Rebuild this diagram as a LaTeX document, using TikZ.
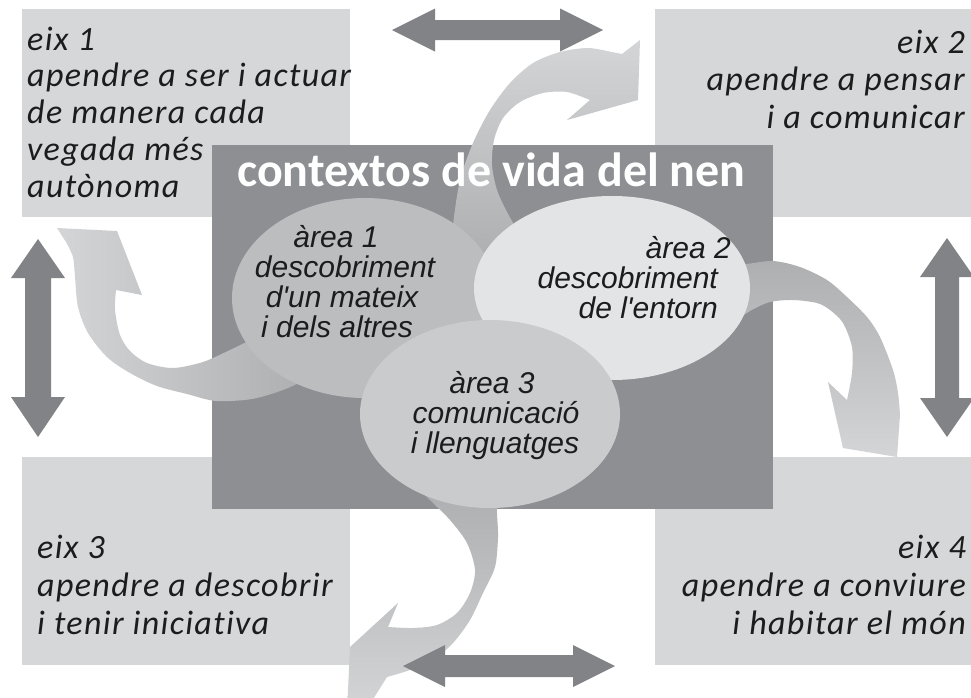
\documentclass[tikz,border=0pt]{standalone}
\usepackage{fontspec}
\setmainfont{Carlito}
\newfontfamily\eixfont[LetterSpace=4,Ligatures=NoCommon]{Carlito}
\newfontfamily\areafont{Liberation Sans}
\usetikzlibrary{shapes.geometric}
\definecolor{boxgray}{HTML}{D6D7D9}
\definecolor{darkrect}{HTML}{8E8F93}
\definecolor{dblarrow}{HTML}{828387}
\definecolor{ellone}{HTML}{BCBDBF}
\definecolor{elltwo}{HTML}{E3E4E5}
\definecolor{ellthree}{HTML}{CACBCD}
\definecolor{arrdark}{HTML}{AEAFB1}
\definecolor{arrlight}{HTML}{D4D5D7}
\definecolor{txt}{HTML}{1C1C1C}
\tikzset{
  eixbox/.style={draw=none, fill=boxgray, inner sep=0pt, anchor=north west},
  areaell/.style={ellipse, draw=none, inner sep=0pt},
  eixtxt/.style={inner sep=0pt, font=\eixfont\itshape\fontsize{34}{37}\selectfont, text=txt},
  areatxt/.style={inner sep=0pt, font=\areafont\itshape\fontsize{30}{30}\selectfont, text=txt},
  dbl/.style={fill=dblarrow, draw=none},
}
\begin{document}
\begin{tikzpicture}[x=1pt,y=-1pt]
\useasboundingbox (0,0) rectangle (971,697);
\fill[white] (0,0) rectangle (971,697);

% axis boxes
\node[eixbox, minimum width=328, minimum height=208] (box1) at (22,9) {};
\node[eixbox, minimum width=316, minimum height=208] (box2) at (655,9) {};
\node[eixbox, minimum width=328, minimum height=208] (box3) at (22,457) {};
\node[eixbox, minimum width=316, minimum height=208] (box4) at (655,457) {};

% central context rectangle
\node[eixbox, fill=darkrect, minimum width=561, minimum height=364] (ctx) at (212,145) {};

% curved arrows
\shade[top color=arrlight, bottom color=arrdark]
  plot[smooth] coordinates {(452,250) (453,225) (460,180) (473,143) (490,110) (510,83) (533,63) (560,52) (587,48) (607,51)}
  -- (622,54) -- (640,40) -- (638,100) -- (567,120) -- (590,100)
  -- plot[smooth] coordinates {(590,100) (567,92) (543,93) (520,102) (503,118) (494,140) (492,165) (497,190) (507,212) (520,235) (532,258)}
  -- cycle;

\shade[top color=arrdark, bottom color=arrlight]
  plot[smooth] coordinates {(730,262) (745,264) (773,261) (800,267) (827,280) (847,297) (867,317) (880,337) (893,370) (898,393) (900,415)}
  -- (897,457) -- (843,448) -- (828,382) -- (847,400)
  -- plot[smooth] coordinates {(847,400) (852,373) (852,347) (843,323) (830,310) (817,303) (793,300) (770,302) (750,311) (730,325)}
  -- cycle;

\shade[top color=arrdark, bottom color=arrlight]
  plot[smooth] coordinates {(497,495) (497,513) (498,537) (495,567) (483,593) (470,620) (453,643) (433,660) (410,670) (387,677)}
  -- (365,712) -- (347,712) -- (350,647) -- (398,603) -- (388,627)
  -- plot[smooth] coordinates {(388,627) (413,628) (437,625) (457,613) (470,593) (475,570) (467,543) (450,520) (430,500) (420,490)}
  -- cycle;

\shade[left color=arrlight, right color=arrdark]
  plot[smooth] coordinates {(305,380) (283,390) (252,399) (216,401) (187,394) (157,386) (130,373) (107,357) (88,333) (78,307) (75,277) (73,257) (66,242)}
  -- (57,228) -- (117,231) -- (142,295) -- (116,290)
  -- plot[smooth] coordinates {(116,290) (115,310) (120,335) (130,351) (147,363) (173,368) (203,362) (230,350) (255,338) (285,325)}
  -- cycle;

% areas
\node[areaell, fill=ellone, minimum width=266, minimum height=200] (area1) at (365,298) {};
\node[areaell, fill=elltwo, minimum width=276, minimum height=184] (area2) at (612,288) {};
\node[areaell, fill=ellthree, minimum width=260, minimum height=188] (area3) at (490,414) {};

% title
\node[inner sep=0pt, anchor=base west, text=white, font=\bfseries\fontsize{48}{50}\selectfont] (title) at (237,186) {contextos de vida del nen};

% double arrows
\fill[dbl] (392,30) -- (435,8.5) -- (435,20) -- (560,20) -- (560,8.5) -- (603,30) -- (560,51.5) -- (560,40) -- (435,40) -- (435,51.5) -- cycle;
\fill[dbl] (403,666) -- (445,645) -- (445,655) -- (573,655) -- (573,645) -- (615,666) -- (573,687) -- (573,677) -- (445,677) -- (445,687) -- cycle;
\fill[dbl] (38,239) -- (65,278) -- (51,278) -- (51,397) -- (65,397) -- (38,437) -- (11,397) -- (25,397) -- (25,278) -- (11,278) -- cycle;
\fill[dbl] (947,238) -- (974,277) -- (959,277) -- (959,398) -- (974,398) -- (947,437) -- (920,398) -- (935,398) -- (935,277) -- (920,277) -- cycle;

% eix texts
\node[eixtxt, anchor=base west] (e1a) at (27,50) {eix 1};
\node[eixtxt, anchor=base west] (e1b) at (27,86.75) {apendre a ser i actuar};
\node[eixtxt, anchor=base west] (e1c) at (27,123.5) {de manera cada};
\node[eixtxt, anchor=base west] (e1d) at (27,160.25) {vegada més};
\node[eixtxt, anchor=base west] (e1e) at (27,197) {autònoma};

\node[eixtxt, anchor=base east] (e2a) at (965,53) {eix 2};
\node[eixtxt, anchor=base east] (e2b) at (965,90.5) {apendre a pensar};
\node[eixtxt, anchor=base east] (e2c) at (965,128) {i a comunicar};

\node[eixtxt, anchor=base west] (e3a) at (37,558) {eix 3};
\node[eixtxt, anchor=base west] (e3b) at (37,596) {apendre a descobrir};
\node[eixtxt, anchor=base west] (e3c) at (37,634) {i tenir iniciativa};

\node[eixtxt, anchor=base east] (e4a) at (966,558) {eix 4};
\node[eixtxt, anchor=base east] (e4b) at (966,596) {apendre a conviure};
\node[eixtxt, anchor=base east] (e4c) at (966,634) {i habitar el món};

% area texts
\node[areatxt, anchor=base] (a1a) at (336,247) {àrea 1};
\node[areatxt, anchor=base] (a1b) at (345,277) {descobriment};
\node[areatxt, anchor=base] (a1c) at (342,307) {d'un mateix};
\node[areatxt, anchor=base] (a1d) at (337,337) {i dels altres};

\node[areatxt, anchor=base east] (a2a) at (731,258) {àrea 2};
\node[areatxt, anchor=base east] (a2b) at (718,288) {descobriment};
\node[areatxt, anchor=base east] (a2c) at (718,318) {de l'entorn};

\node[areatxt, anchor=base] (a3a) at (492,393) {àrea 3};
\node[areatxt, anchor=base] (a3b) at (496,423) {comunicació};
\node[areatxt, anchor=base] (a3c) at (495,453) {i llenguatges};
\end{tikzpicture}
\end{document}
